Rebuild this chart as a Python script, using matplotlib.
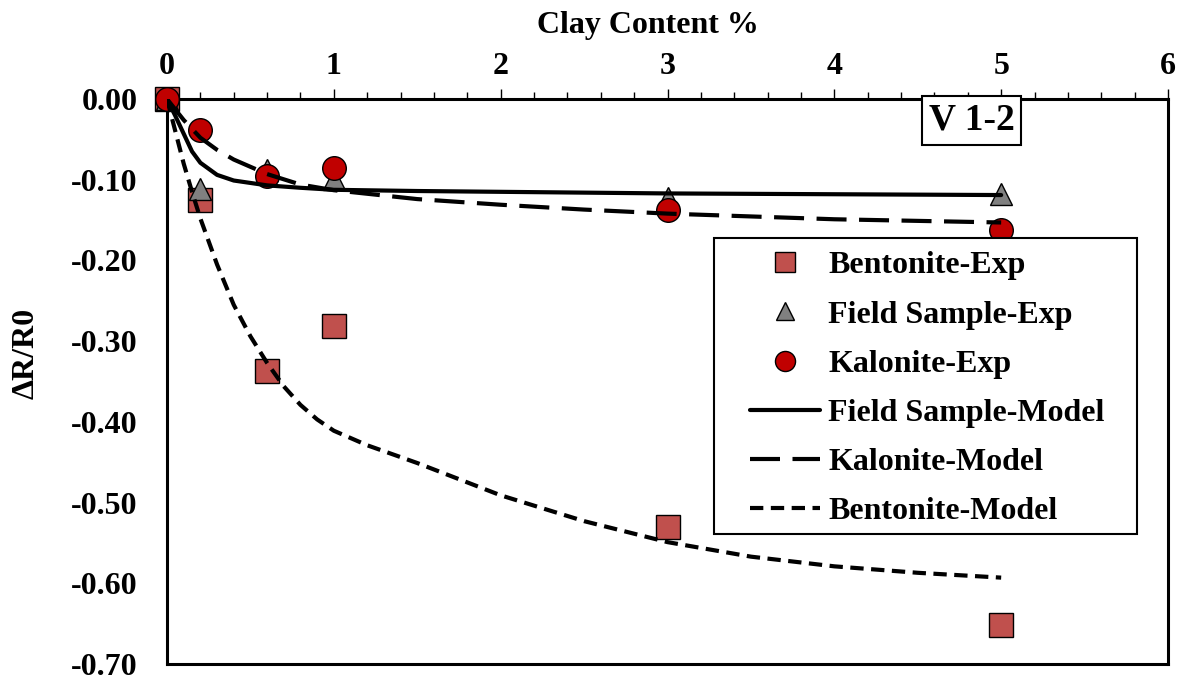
import matplotlib
matplotlib.use("Agg")
import matplotlib.pyplot as plt
from matplotlib.patches import Rectangle
from matplotlib.ticker import MultipleLocator, FormatStrFormatter

plt.rcParams['font.family'] = ['Liberation Serif', 'DejaVu Serif']
plt.rcParams['font.weight'] = 'bold'

# ---- data ----
exp_x = [0, 0.2, 0.6, 1, 3, 5]
bentonite_exp = [0, -0.125, -0.337, -0.281, -0.530, -0.652]
field_exp = [0, -0.111, -0.088, -0.099, -0.123, -0.118]
kalonite_exp = [0, -0.039, -0.096, -0.086, -0.137, -0.162]

field_model_x = [0, 0.05, 0.1, 0.15, 0.2, 0.3, 0.4, 0.6, 0.8, 1.0, 1.5, 2.0, 3.0, 4.0, 5.0]
field_model_y = [0, -0.021, -0.043, -0.065, -0.079, -0.094, -0.101, -0.107, -0.110,
                 -0.1125, -0.114, -0.115, -0.117, -0.118, -0.119]

kalonite_model_x = [0, 0.05, 0.1, 0.2, 0.3, 0.4, 0.6, 0.8, 1.0, 1.5, 2.0, 2.5, 3.0, 4.0, 5.0]
kalonite_model_y = [0, -0.013, -0.026, -0.048, -0.063, -0.075, -0.093, -0.106, -0.113,
                    -0.124, -0.131, -0.137, -0.142, -0.149, -0.153]

bentonite_model_x = [0, 0.05, 0.1, 0.15, 0.2, 0.3, 0.4, 0.5, 0.6, 0.7, 0.8, 0.9, 1.0,
                     1.2, 1.5, 2.0, 2.5, 3.0, 3.5, 4.0, 4.5, 5.0]
bentonite_model_y = [0, -0.040, -0.080, -0.115, -0.148, -0.205, -0.255, -0.294, -0.327,
                     -0.356, -0.379, -0.397, -0.411, -0.429, -0.451, -0.491, -0.523,
                     -0.549, -0.567, -0.579, -0.587, -0.593]

labels = ['Bentonite-Exp', 'Field Sample-Exp', 'Kalonite-Exp',
          'Field Sample-Model', 'Kalonite-Model', 'Bentonite-Model']

W, H = 1188, 681
fig = plt.figure(figsize=(W / 100, H / 100), dpi=100)
ax = fig.add_axes([167 / W, 1 - 664 / H, (1168 - 167) / W, (664 - 99) / H])

FS = 23

h1, = ax.plot(exp_x, bentonite_exp, linestyle='none', marker='s', ms=17,
              mfc='#C0504D', mec='black', mew=1.0, clip_on=False, zorder=3)
h2, = ax.plot(exp_x, field_exp, linestyle='none', marker='^', ms=16,
              mfc='#808080', mec='black', mew=1.0, clip_on=False, zorder=3)
h3, = ax.plot(exp_x, kalonite_exp, linestyle='none', marker='o', ms=17,
              mfc='#C00000', mec='black', mew=1.0, clip_on=False, zorder=3)
h4, = ax.plot(field_model_x, field_model_y, color='black', lw=3.0, zorder=4,
              solid_capstyle='round')
h5, = ax.plot(kalonite_model_x, kalonite_model_y, color='black', lw=3.0, zorder=4,
              dashes=(7.2, 3.0))
h6, = ax.plot(bentonite_model_x, bentonite_model_y, color='black', lw=3.0, zorder=4,
              dashes=(3.2, 1.8))

ax.set_xlim(0, 6)
ax.set_ylim(-0.70, 0.0)
ax.xaxis.tick_top()
ax.xaxis.set_major_locator(MultipleLocator(1))
ax.xaxis.set_minor_locator(MultipleLocator(0.2))
ax.yaxis.set_major_locator(MultipleLocator(0.1))
ax.yaxis.set_major_formatter(FormatStrFormatter('%.2f'))
ax.tick_params(axis='x', which='major', direction='out', length=7, width=1.0,
               labelsize=FS, pad=6, top=True, bottom=False)
ax.tick_params(axis='x', which='minor', direction='out', length=5, width=1.0,
               top=True, bottom=False)
ax.tick_params(axis='y', which='both', length=0, labelsize=FS, pad=21)
for lab in ax.get_xticklabels() + ax.get_yticklabels():
    lab.set_fontweight('bold')
for s in ax.spines.values():
    s.set_linewidth(2.2)

fig.text(648 / W, 1 - 25 / H, 'Clay Content %', ha='center', va='center',
         fontsize=FS, fontweight='bold')
fig.text(26 / W, 1 - 353 / H, 'ΔR/R0', ha='center', va='center', rotation=90,
         fontsize=FS, fontweight='bold')

ax.text(0.804, 0.962, 'V 1-2', transform=ax.transAxes, ha='center', va='center',
        fontsize=27, fontweight='bold', zorder=8, clip_on=False,
        bbox=dict(boxstyle='square,pad=0.18', fc='white', ec='black', lw=1.5))

# legend frame
rect = Rectangle((714 / W, 1 - 534 / H), (1137 - 714) / W, (534 - 238) / H,
                 transform=fig.transFigure, fc='white', ec='black', lw=1.5,
                 zorder=6)
fig.patches.append(rect)

leg = fig.legend([h1, h2, h3, h4, h5, h6], labels, loc='upper left',
                 bbox_to_anchor=(750 / W, 1 - 251 / H), bbox_transform=fig.transFigure,
                 frameon=False, borderpad=0, borderaxespad=0, handlelength=2.2,
                 handletextpad=0.25, labelspacing=0.62, markerscale=0.85,
                 prop={'family': 'Liberation Serif', 'weight': 'bold', 'size': FS})
leg.set_zorder(7)

fig.savefig('out.png', dpi=100)
